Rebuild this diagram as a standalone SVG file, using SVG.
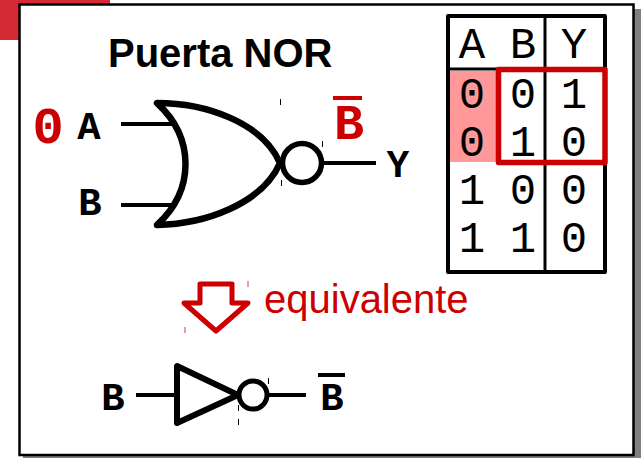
<svg xmlns="http://www.w3.org/2000/svg" width="641" height="458" viewBox="0 0 641 458">
<style>
.ln{fill:none;stroke:#000;stroke-linejoin:round}
.lab{font-family:"Liberation Mono",monospace;font-weight:bold;text-anchor:middle}
.cell{font-family:"Liberation Mono",monospace;font-size:44px;text-anchor:middle;fill:#000}
.sans{font-family:"Liberation Sans",Arial,sans-serif}
.tick{stroke:#000;stroke-width:1}
.tickr{stroke:#e77;stroke-width:1.5}
</style>
<rect id="accent" x="0" y="0" width="110" height="40" fill="#d42a35"/>
<rect id="shadow" x="23" y="9" width="618" height="449" fill="#808080"/>
<rect id="frame" x="19.500" y="4.500" width="614" height="450.500" fill="#fff" stroke="#000" stroke-width="2.500"/>
<text id="title" class="sans" x="108" y="67" font-size="40" font-weight="bold">Puerta NOR</text>
<g id="nor-gate">
<path class="ln" stroke-width="6.500" d="M157 103C205 103 262 122 280 163C262 204 205 224 157 225C195 190 195 138 157 103Z"/>
<circle class="ln" stroke-width="5.500" cx="302" cy="163" r="19.500"/>
<path class="tick" d="M280.500 99V105M281.500 180V186M322.500 141V147"/>
</g>
<g id="nor-labels">
<text class="lab" x="48" y="143" font-size="52" fill="#c00">0</text>
<text class="lab" x="89" y="138.500" font-size="39">A</text>
<text class="lab" x="90" y="215" font-size="39">B</text>
<text class="lab" x="398" y="177" font-size="38">Y</text>
<text class="lab" x="349" y="139" font-size="50" fill="#c00">B</text>
<rect x="333" y="96" width="29" height="4" fill="#c00"/>
</g>
<g id="connectors">
<path class="ln" stroke-width="4" d="M121 124H172M121 205H175M324 163H376M136 395H176M268 395H306"/>
</g>
<g id="truth-table">
<rect x="450" y="71" width="48" height="91" fill="#f99"/>
<rect class="ln" stroke-width="4" x="448" y="16" width="157" height="256"/>
<path class="ln" stroke-width="3" d="M545 16V272M448 69H498"/>
<text class="cell" x="472" y="58">A</text><text class="cell" x="523" y="58">B</text><text class="cell" x="574" y="58">Y</text>
<text class="cell" x="472" y="107.500">0</text><text class="cell" x="523" y="107.500">0</text><text class="cell" x="574" y="107.500">1</text>
<text class="cell" x="472" y="156">0</text><text class="cell" x="523" y="156">1</text><text class="cell" x="574" y="156">0</text>
<text class="cell" x="472" y="204">1</text><text class="cell" x="523" y="204">0</text><text class="cell" x="574" y="204">0</text>
<text class="cell" x="472" y="252">1</text><text class="cell" x="523" y="252">1</text><text class="cell" x="574" y="252">0</text>
<rect x="498.500" y="69.500" width="106.500" height="93" fill="none" stroke="#c00" stroke-width="5.500" stroke-linejoin="round"/>
</g>
<g id="arrow">
<path fill="none" stroke="#c00" stroke-width="5" stroke-linejoin="round" d="M200 284H232V303H248L216 331L184 303H200Z"/>
<path class="tickr" d="M248 281V287M185 327V333"/>
</g>
<text id="equiv" class="sans" x="264" y="313" font-size="40" fill="#c00">equivalente</text>
<g id="inverter">
<path class="ln" stroke-width="6" d="M177 366V423L238 395Z"/>
<circle class="ln" stroke-width="5" cx="253" cy="395" r="14"/>
<path class="tick" d="M268.500 378V384M238.500 405V411M238.500 419V425"/>
<text class="lab" x="113" y="410" font-size="39">B</text>
<text class="lab" x="332" y="410" font-size="39">B</text>
<rect x="318" y="373" width="27" height="4" fill="#000"/>
</g>
</svg>
